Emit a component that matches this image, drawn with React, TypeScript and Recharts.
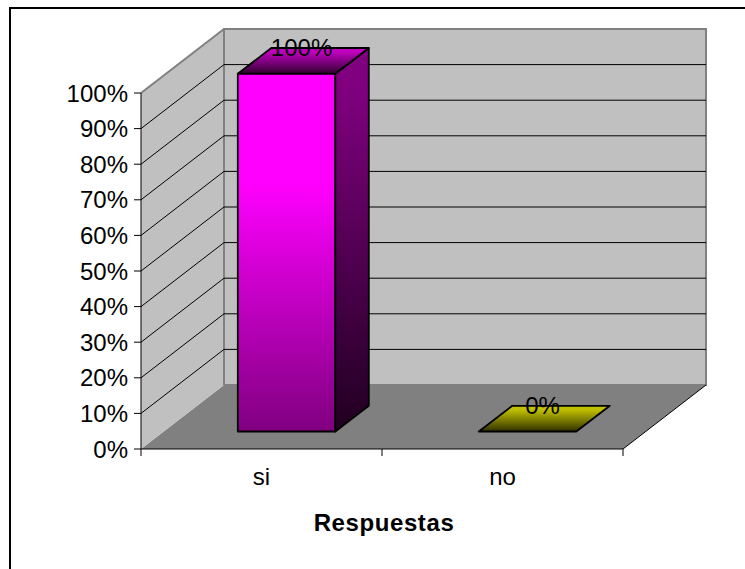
import React from "react";
import { BarChart, Bar, XAxis, YAxis, Label, LabelList, usePlotArea } from "recharts";

const categories = ["si", "no"];
const percentages = [100, 0];
const percentTicks = [0, 10, 20, 30, 40, 50, 60, 70, 80, 90, 100];

const chartData = categories.map((name, i) => ({ name, value: percentages[i] }));

const FONT = '"Liberation Sans", Arial, sans-serif';

// depth of the box the chart sits in, and of each bar
const BOX_DX = 83;
const BOX_DY = -64;
const BAR_DX = 33.5;
const BAR_DY = -25.7;
// the front face of a bar stands this far into the box
const BAR_INSET_X = 24.8;
const BAR_INSET_Y = -17.5;
const BAR_STRETCH = 1.005;

const shades = [
  { id: "pink", front: ["#ff00ff", "#800080"], side: ["#800080", "#200020"], top: ["#c000c0", "#300030"] },
  { id: "olive", front: ["#ffff00", "#808000"], side: ["#808000", "#202000"], top: ["#c0c000", "#303000"] },
];

// solid colour down to `hold`, then fading to the second colour
const Gradient = ({ id, colors, hold }: { id: string; colors: string[]; hold: number }) => (
  <linearGradient id={id} x1="0" y1="0" x2="0" y2="1">
    <stop offset={hold} stopColor={colors[0]} />
    <stop offset="1" stopColor={colors[1]} />
  </linearGradient>
);

// walls, floor, gridlines and the category tick marks
const Box3D = () => {
  const plot = usePlotArea();
  if (!plot) return null;
  const { x, y, width, height } = plot;
  const bottom = y + height;
  const right = x + width;
  const step = width / categories.length;
  const levelY = (v: number) => bottom - (v / 100) * height;

  return (
    <g>
      <defs>
        {shades.map((s) => (
          <React.Fragment key={s.id}>
            <Gradient id={`${s.id}-front`} colors={s.front} hold={0.3} />
            <Gradient id={`${s.id}-side`} colors={s.side} hold={0.1} />
            <Gradient id={`${s.id}-top`} colors={s.top} hold={0.15} />
          </React.Fragment>
        ))}
      </defs>
      <polygon
        points={`${x + BOX_DX},${bottom + BOX_DY} ${right + BOX_DX},${bottom + BOX_DY} ${right},${bottom} ${x},${bottom}`}
        fill="#808080"
      />
      <rect
        x={x + BOX_DX}
        y={y + BOX_DY}
        width={width}
        height={height}
        fill="#c0c0c0"
        stroke="#808080"
        strokeWidth={2}
      />
      <polygon
        points={`${x},${y} ${x + BOX_DX},${y + BOX_DY} ${x + BOX_DX},${bottom + BOX_DY} ${x},${bottom}`}
        fill="#c0c0c0"
      />
      <line x1={x} y1={y} x2={x + BOX_DX} y2={y + BOX_DY} stroke="#808080" strokeWidth={2} />
      <line x1={x + BOX_DX} y1={y + BOX_DY} x2={x + BOX_DX} y2={bottom + BOX_DY} stroke="#808080" strokeWidth={2} />
      <line x1={right} y1={bottom} x2={right + BOX_DX} y2={bottom + BOX_DY} stroke="#000" />
      {percentTicks.slice(1, -1).map((v) => (
        <g key={v}>
          <line x1={x} y1={levelY(v)} x2={x + BOX_DX} y2={levelY(v) + BOX_DY} stroke="#000" />
          <line x1={x + BOX_DX} y1={levelY(v) + BOX_DY} x2={right + BOX_DX} y2={levelY(v) + BOX_DY} stroke="#000" />
        </g>
      ))}
      {[0, 1, 2].map((i) => (
        <line key={i} x1={x + i * step} y1={bottom} x2={x + i * step} y2={bottom + 7} stroke="#000" />
      ))}
    </g>
  );
};

const Bar3D = (props: any) => {
  const { x, y, width, height, index } = props;
  const s = shades[index];
  const left = x + BAR_INSET_X;
  const right = left + width;
  const bottom = y + height + BAR_INSET_Y;
  const top = bottom - height * BAR_STRETCH;
  return (
    <g stroke="#000" strokeWidth={1.8} strokeLinejoin="round">
      {height > 0 && (
        <>
          <rect x={left} y={top} width={width} height={bottom - top} fill={`url(#${s.id}-front)`} />
          <polygon
            points={`${right},${top} ${right + BAR_DX},${top + BAR_DY} ${right + BAR_DX},${bottom + BAR_DY} ${right},${bottom}`}
            fill={`url(#${s.id}-side)`}
          />
        </>
      )}
      <polygon
        points={`${left},${top} ${right},${top} ${right + BAR_DX},${top + BAR_DY} ${left + BAR_DX},${top + BAR_DY}`}
        fill={`url(#${s.id}-top)`}
      />
    </g>
  );
};

const ValueLabel = (props: any) => {
  const { x, y, width, height, value } = props;
  const top = y + height + BAR_INSET_Y - height * BAR_STRETCH;
  return (
    <text
      x={x + BAR_INSET_X + width / 2 + 15}
      y={top - 18}
      textAnchor="middle"
      fontSize={24}
      fontFamily={FONT}
      fill="#000"
    >
      {`${value}%`}
    </text>
  );
};

export default function App() {
  return (
    <div style={{ position: "absolute", left: 0, top: 0, width: 745, height: 569, background: "#fff", overflow: "hidden" }}>
      <div
        style={{
          position: "absolute",
          left: 9,
          top: 7,
          width: 745,
          height: 569,
          borderLeft: "2px solid #000",
          borderTop: "2px solid #000",
        }}
      />
      <BarChart
        width={745}
        height={569}
        data={chartData}
        margin={{ top: 93, right: 122, bottom: 60, left: 61 }}
        style={{ position: "absolute", left: 0, top: 0 }}
      >
        <Box3D />
        <XAxis
          dataKey="name"
          height={60}
          interval={0}
          tickLine={false}
          tickMargin={13}
          axisLine={{ stroke: "#000" }}
          tick={{ fontSize: 24, fontFamily: FONT, fill: "#000" }}
        >
          <Label
            value="Respuestas"
            position="insideBottom"
            offset={-22}
            dx={2}
            style={{ fontSize: 24, fontWeight: 700, fontFamily: FONT, fill: "#000", letterSpacing: 0.6 }}
          />
        </XAxis>
        <YAxis
          width={80}
          domain={[0, 100]}
          ticks={percentTicks}
          interval={0}
          tickSize={7}
          tickMargin={6}
          tickFormatter={(v: number) => `${v}%`}
          axisLine={{ stroke: "#000" }}
          tickLine={{ stroke: "#000" }}
          tick={{ fontSize: 24, fontFamily: FONT, fill: "#000" }}
        />
        <Bar dataKey="value" barSize={97.5} shape={Bar3D} isAnimationActive={false}>
          <LabelList dataKey="value" content={ValueLabel} />
        </Bar>
      </BarChart>
    </div>
  );
}
